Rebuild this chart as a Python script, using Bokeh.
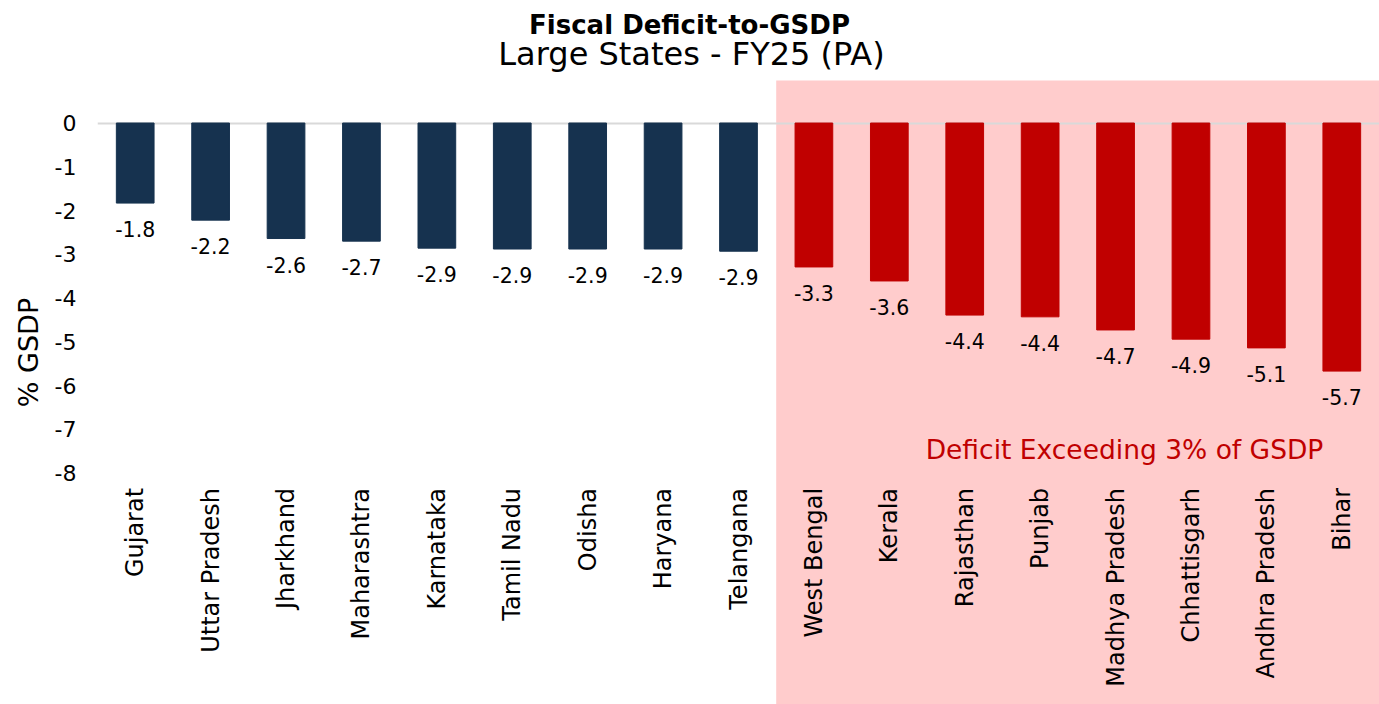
import math
from bokeh.plotting import figure
from bokeh.models import (ColumnDataSource, FactorRange, Range1d, FixedTicker,
                          BoxAnnotation, Label, LabelSet)
from bokeh.core.properties import value
from bokeh.embed import file_html
from bokeh.resources import INLINE

# ---------------- data ----------------
states = ["Gujarat", "Uttar Pradesh", "Jharkhand", "Maharashtra", "Karnataka",
          "Tamil Nadu", "Odisha", "Haryana", "Telangana", "West Bengal", "Kerala",
          "Rajasthan", "Punjab", "Madhya Pradesh", "Chhattisgarh",
          "Andhra Pradesh", "Bihar"]
deficit = [-1.83, -2.22, -2.64, -2.70, -2.86, -2.88, -2.88, -2.88, -2.93,
           -3.29, -3.61, -4.39, -4.43, -4.73, -4.94, -5.14, -5.67]
y_ticks = [0, -1, -2, -3, -4, -5, -6, -7, -8]
threshold = -3.0

title_text = "Fiscal Deficit-to-GSDP"
subtitle_text = "Large States - FY25 (PA)"
note_text = "Deficit Exceeding 3% of GSDP"
y_label_text = "% GSDP"

# ---------------- style ----------------
FONT = "DejaVu Sans"
NAVY = "#16324F"
RED = "#C00000"
PINK = "#FFCCCC"

colors = [RED if v < threshold else NAVY for v in deficit]
labels = [f"{v:.1f}" for v in deficit]
src = ColumnDataSource(dict(state=states, val=deficit, base=[0] * len(states),
                            color=colors, label=labels))

p = figure(width=1379, height=704, output_backend="svg", toolbar_location=None,
           x_range=FactorRange(*states, range_padding=0),
           y_range=Range1d(-13.29, 2.80),
           min_border_left=97, min_border_right=0, min_border_top=0,
           min_border_bottom=0, tools="")
p.outline_line_color = None
p.background_fill_color = "white"
p.border_fill_color = "white"

# shaded region for states beyond the threshold
n_ok = sum(1 for v in deficit if v >= threshold)
shade = BoxAnnotation(left=n_ok, top=0.97, fill_color=PINK, fill_alpha=1.0,
                      line_color=None, level="image")
p.add_layout(shade)

p.vbar(x="state", top="base", bottom="val", width=0.5, color="color", source=src)

p.add_layout(LabelSet(x="state", y="val", text="label", source=src,
                      text_align="center", text_baseline="top", y_offset=-18,
                      text_font=value(FONT), text_font_size="20.5px",
                      text_color="#000000"))

# category labels (vertical, reading upward, ending just below the -8 line)
p.text(x="state", y=-8.34, text="state", source=src, angle=math.pi / 2,
       text_align="right", text_baseline="middle", text_font=value(FONT),
       text_font_size="24px", text_color="#000000")

p.xaxis.visible = False

p.yaxis.ticker = FixedTicker(ticks=y_ticks, minor_ticks=[])
p.yaxis.major_label_overrides = {t: str(t) for t in y_ticks}
p.yaxis.axis_line_color = None
p.yaxis.major_tick_line_color = None
p.yaxis.minor_tick_line_color = None
p.yaxis.major_label_standoff = 15
p.yaxis.major_label_text_font = FONT
p.yaxis.major_label_text_font_size = "22px"
p.yaxis.major_label_text_color = "#000000"
p.yaxis.axis_label = y_label_text
p.yaxis.axis_label_text_font = FONT
p.yaxis.axis_label_text_font_size = "27px"
p.yaxis.axis_label_text_font_style = "normal"
p.yaxis.axis_label_text_color = "#000000"
p.yaxis.axis_label_standoff = 8

p.xgrid.grid_line_color = None
p.ygrid.ticker = FixedTicker(ticks=[0], minor_ticks=[])
p.ygrid.grid_line_color = "#D9D9D9"
p.ygrid.grid_line_width = 2

# texts (screen units: x from frame left, y from frame bottom)
p.add_layout(Label(x=592, y=680, x_units="screen", y_units="screen", text=title_text,
                   text_align="center", text_baseline="alphabetic", text_font=FONT,
                   text_font_style="bold", text_font_size="26px", text_color="#000000"))
p.add_layout(Label(x=594, y=651, x_units="screen", y_units="screen", text=subtitle_text,
                   text_align="center", text_baseline="alphabetic", text_font=FONT,
                   text_font_size="32px", text_color="#000000"))
p.add_layout(Label(x=1027, y=255, x_units="screen", y_units="screen", text=note_text,
                   text_align="center", text_baseline="alphabetic", text_font=FONT,
                   text_font_size="26.5px", text_color=RED))

open("out.html", "w").write(file_html(p, INLINE))
